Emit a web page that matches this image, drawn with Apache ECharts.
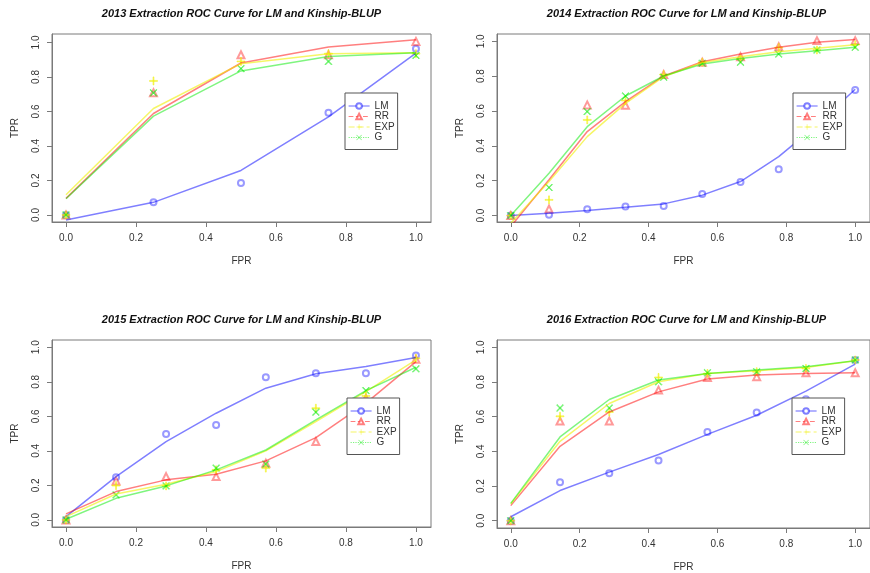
<!DOCTYPE html>
<html><head><meta charset="utf-8">
<script src="https://cdn.jsdelivr.net/npm/echarts@6/dist/echarts.min.js"></script>
<style>html,body{margin:0;padding:0;background:#fff}#c{width:870px;height:573px}</style>
</head><body><div id="c"></div>
<script>
const tickVals = [0, 0.2, 0.4, 0.6, 0.8, 1.0];
const seriesNames = ['LM', 'RR', 'EXP', 'G'];

const title2013 = '2013 Extraction ROC Curve for LM and Kinship-BLUP';
const fpr2013 = [0, 0.25, 0.5, 0.75, 1];
const lmPts2013 = [0, 0.073, 0.185, 0.592, 0.963];
const lmFit2013 = [-0.029, 0.073, 0.258, 0.569, 0.938];
const rrPts2013 = [0, 0.708, 0.929, 0.929, 1.006];
const rrFit2013 = [0.096, 0.588, 0.881, 0.973, 1.015];
const expPts2013 = [0, 0.777, 0.89, 0.935, 0.935];
const expFit2013 = [0.117, 0.617, 0.877, 0.935, 0.94];
const gPts2013 = [0, 0.708, 0.848, 0.89, 0.925];
const gFit2013 = [0.094, 0.573, 0.835, 0.919, 0.94];

const title2014 = '2014 Extraction ROC Curve for LM and Kinship-BLUP';
const fpr2014 = [0, 0.111, 0.222, 0.333, 0.444, 0.556, 0.667, 0.778, 0.889, 1];
const lmPts2014 = [0, 0.004, 0.036, 0.052, 0.055, 0.124, 0.193, 0.266, 0.45, 0.721];
const lmFit2014 = [0, 0.013, 0.029, 0.048, 0.067, 0.117, 0.195, 0.338, 0.52, 0.725];
const rrPts2014 = [0, 0.038, 0.635, 0.633, 0.809, 0.88, 0.912, 0.969, 1.004, 1.004];
const rrFit2014 = [-0.063, 0.205, 0.482, 0.654, 0.801, 0.883, 0.927, 0.966, 0.994, 1.011];
const expPts2014 = [0, 0.09, 0.549, 0.66, 0.809, 0.88, 0.9, 0.964, 0.95, 0.98];
const expFit2014 = [-0.044, 0.195, 0.453, 0.644, 0.797, 0.878, 0.912, 0.94, 0.96, 0.98];
const gPts2014 = [0, 0.161, 0.597, 0.686, 0.794, 0.874, 0.88, 0.927, 0.95, 0.966];
const gFit2014 = [0, 0.243, 0.51, 0.686, 0.801, 0.87, 0.902, 0.927, 0.946, 0.966];

const title2015 = '2015 Extraction ROC Curve for LM and Kinship-BLUP';
const fpr2015 = [0, 0.143, 0.286, 0.429, 0.571, 0.714, 0.857, 1];
const lmPts2015 = [0, 0.247, 0.498, 0.55, 0.826, 0.849, 0.849, 0.952];
const lmFit2015 = [0.019, 0.251, 0.454, 0.618, 0.763, 0.846, 0.888, 0.94];
const rrPts2015 = [0, 0.226, 0.251, 0.251, 0.328, 0.454, 0.705, 0.93];
const rrFit2015 = [0.035, 0.164, 0.232, 0.264, 0.342, 0.477, 0.676, 0.917];
const expPts2015 = [0, 0.199, 0.197, 0.29, 0.3, 0.647, 0.718, 0.936];
const expFit2015 = [0.019, 0.15, 0.207, 0.28, 0.4, 0.57, 0.743, 0.927];
const gPts2015 = [0, 0.145, 0.197, 0.3, 0.324, 0.624, 0.749, 0.875];
const gFit2015 = [0.004, 0.125, 0.197, 0.29, 0.405, 0.579, 0.749, 0.884];

const title2016 = '2016 Extraction ROC Curve for LM and Kinship-BLUP';
const fpr2016 = [0, 0.143, 0.286, 0.429, 0.571, 0.714, 0.857, 1];
const lmPts2016 = [0, 0.222, 0.274, 0.347, 0.512, 0.624, 0.701, 0.927];
const lmFit2016 = [0.023, 0.174, 0.28, 0.382, 0.498, 0.608, 0.747, 0.903];
const rrPts2016 = [0, 0.575, 0.575, 0.753, 0.826, 0.83, 0.853, 0.853];
const rrFit2016 = [0.087, 0.429, 0.627, 0.743, 0.817, 0.84, 0.849, 0.853];
const expPts2016 = [0, 0.602, 0.627, 0.826, 0.849, 0.859, 0.878, 0.927];
const expFit2016 = [0.097, 0.458, 0.676, 0.801, 0.849, 0.865, 0.884, 0.923];
const gPts2016 = [0, 0.65, 0.65, 0.801, 0.853, 0.859, 0.878, 0.927];
const gFit2016 = [0.1, 0.483, 0.699, 0.811, 0.849, 0.869, 0.888, 0.923];

const panels = [
  {title: title2013, x: fpr2013, pts: [lmPts2013, rrPts2013, expPts2013, gPts2013], fit: [lmFit2013, rrFit2013, expFit2013, gFit2013],
   grid: {left: 52, top: 34, width: 379, height: 188}, ymin: -0.041, ymax: 1.049, legend: {left: 345, top: 93}},
  {title: title2014, x: fpr2014, pts: [lmPts2014, rrPts2014, expPts2014, gPts2014], fit: [lmFit2014, rrFit2014, expFit2014, gFit2014],
   grid: {left: 497, top: 34, width: 379, height: 188}, ymin: -0.037, ymax: 1.042, legend: {left: 793, top: 93}},
  {title: title2015, x: fpr2015, pts: [lmPts2015, rrPts2015, expPts2015, gPts2015], fit: [lmFit2015, rrFit2015, expFit2015, gFit2015],
   grid: {left: 52, top: 340, width: 379, height: 187}, ymin: -0.041, ymax: 1.042, legend: {left: 347, top: 398}},
  {title: title2016, x: fpr2016, pts: [lmPts2016, rrPts2016, expPts2016, gPts2016], fit: [lmFit2016, rrFit2016, expFit2016, gFit2016],
   grid: {left: 497, top: 340, width: 379, height: 188}, ymin: -0.042, ymax: 1.042, legend: {left: 792, top: 398}}
];

const colors = ['rgba(0,0,255,0.5)', 'rgba(255,0,0,0.5)', 'rgba(240,240,0,0.6)', 'rgba(0,235,0,0.5)'];
const plusPath = 'path://M4.4,0h1.2v10h-1.2z M0,4.4h10v1.2h-10z';
const xPath = 'path://M0,0.85L0.85,0L10,9.15L9.15,10Z M9.15,0L10,0.85L0.85,10L0,9.15Z';
const symbols = ['emptyCircle', 'emptyTriangle', plusPath, xPath];
const symSizes = [6, 7, 8, 7];
const lineTypes = ['solid', 'dashed', [6, 3], 'dotted'];

const axisGray = '#7a7a7a';
const txt = '#333';
const option = {animation: false, backgroundColor: '#fff', title: [], grid: [], xAxis: [], yAxis: [], legend: [], series: []};

panels.forEach((p, i) => {
  option.grid.push(Object.assign({show: true, borderColor: axisGray, borderWidth: 1, backgroundColor: 'transparent'}, p.grid));
  option.title.push({
    text: p.title, left: p.grid.left + p.grid.width / 2, top: p.grid.top - 26, textAlign: 'center', padding: 0,
    textStyle: {fontFamily: 'Liberation Sans, Arial, sans-serif', fontSize: 11, fontWeight: 'bold', fontStyle: 'italic', color: '#111'}
  });
  option.xAxis.push({
    type: 'value', gridIndex: i, min: -0.04, max: 1.043,
    name: 'FPR', nameLocation: 'middle', nameGap: 34,
    nameTextStyle: {fontFamily: 'Liberation Sans, Arial, sans-serif', fontSize: 10, color: txt},
    axisLine: {show: true, onZero: false, lineStyle: {color: axisGray}},
    axisTick: {show: true, length: 5, lineStyle: {color: axisGray}, customValues: tickVals},
    axisLabel: {margin: 11, fontFamily: 'Liberation Sans, Arial, sans-serif', fontSize: 10, color: txt, customValues: tickVals, formatter: v => v.toFixed(1)},
    splitLine: {show: false}
  });
  option.yAxis.push({
    type: 'value', gridIndex: i, min: p.ymin, max: p.ymax,
    name: 'TPR', nameLocation: 'middle', nameGap: 32,
    nameTextStyle: {fontFamily: 'Liberation Sans, Arial, sans-serif', fontSize: 10, color: txt},
    axisLine: {show: true, onZero: false, lineStyle: {color: axisGray}},
    axisTick: {show: true, length: 5, lineStyle: {color: axisGray}, customValues: tickVals},
    axisLabel: {margin: 11, rotate: 90, fontFamily: 'Liberation Sans, Arial, sans-serif', fontSize: 10, color: txt, customValues: tickVals, formatter: v => v.toFixed(1)},
    splitLine: {show: false}
  });
  seriesNames.forEach((nm, k) => {
    option.series.push({
      type: 'scatter', name: nm + ' points ' + i, xAxisIndex: i, yAxisIndex: i, z: 2,
      symbol: symbols[k], symbolSize: symSizes[k],
      itemStyle: {color: colors[k], borderColor: colors[k], borderWidth: 1},
      data: p.x.map((xv, j) => [xv, p.pts[k][j]])
    });
    option.series.push({
      type: 'line', name: nm, xAxisIndex: i, yAxisIndex: i, z: 3,
      symbol: symbols[k], showSymbol: false, smooth: false, clip: true,
      lineStyle: {color: colors[k], width: 1.5}, itemStyle: {color: colors[k]},
      data: p.x.map((xv, j) => [xv, p.fit[k][j]])
    });
  });
  option.legend.push({
    left: p.legend.left, top: p.legend.top, orient: 'vertical',
    backgroundColor: '#fff', borderColor: '#555', borderWidth: 1, padding: [8, 3, 7, 3],
    itemWidth: 21, itemHeight: 7, itemGap: 0.5, selectedMode: false,
    textStyle: {fontFamily: 'Liberation Sans, Arial, sans-serif', fontSize: 10, color: txt, lineHeight: 10},
    data: seriesNames.map((nm, k) => ({name: nm, lineStyle: {type: lineTypes[k], width: 1.2}}))
  });
});

const chart = echarts.init(document.getElementById('c'), null, {renderer: 'canvas'});
chart.setOption(option);
</script>
</body></html>
